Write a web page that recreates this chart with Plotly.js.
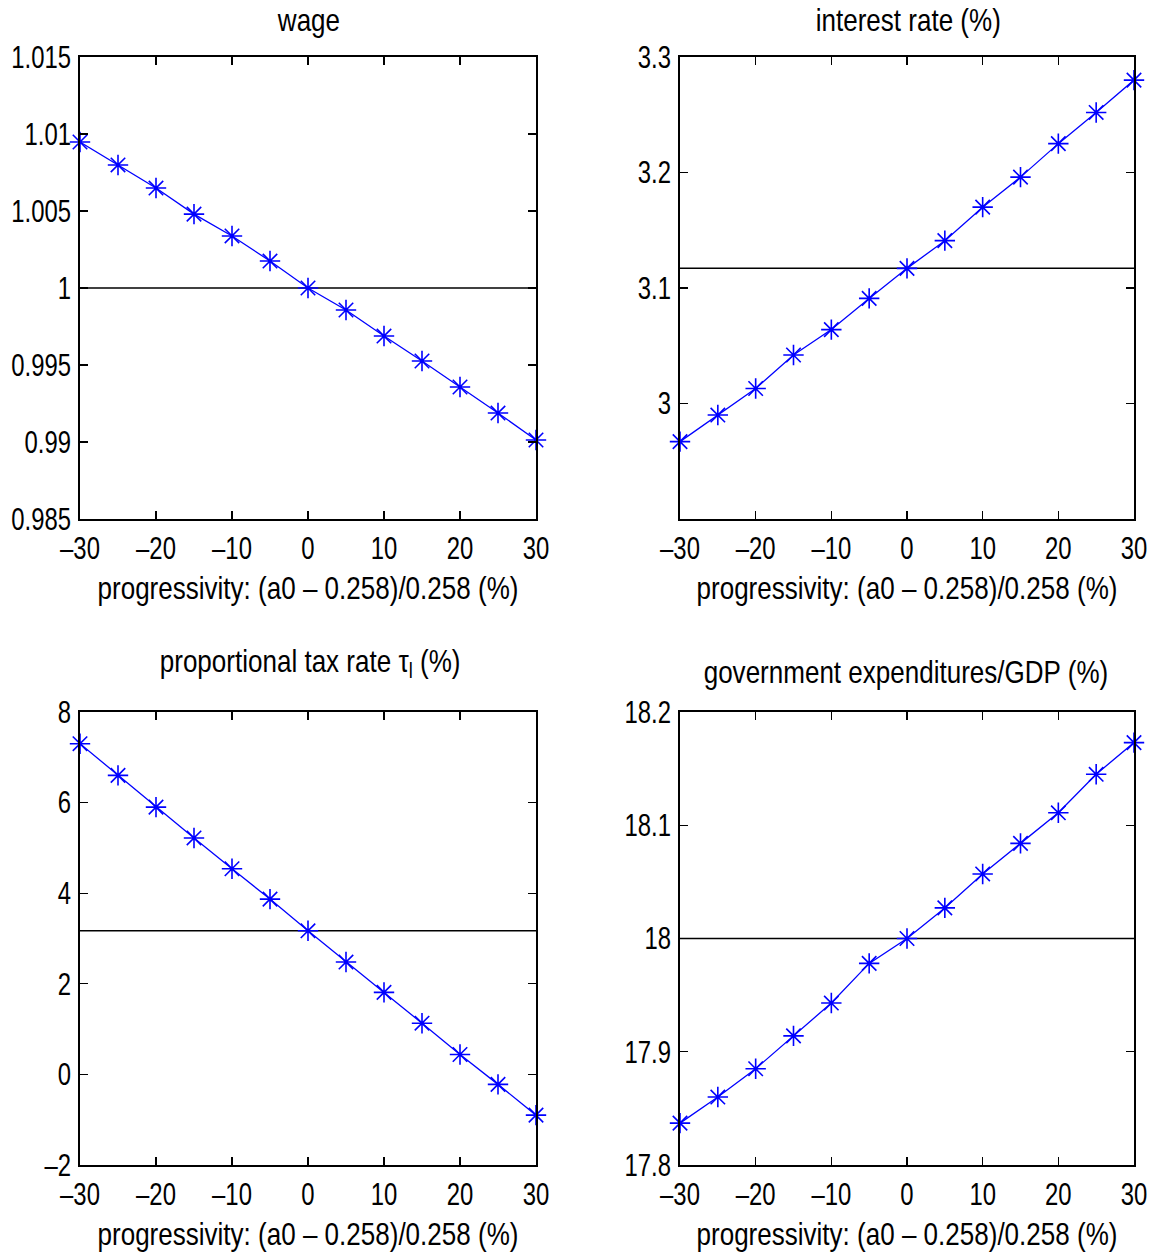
<!DOCTYPE html>
<html>
<head>
<meta charset="utf-8">
<script src="https://cdn.plot.ly/plotly-3.0.1.min.js"></script>
<style>html,body{margin:0;padding:0;background:#fff;}#chart{width:1164px;height:1254px;}</style>
</head>
<body>
<div id="chart"></div>
<script>
// progressivity (%)
const progressivity = [-30, -25, -20, -15, -10, -5, 0, 5, 10, 15, 20, 25, 30];
// series values
const wage = [1.00948, 1.00799, 1.00649, 1.0048, 1.00338, 1.00175, 1.0, 0.99857, 0.99688, 0.99526, 0.99357, 0.99188, 0.99013];
const interestRate = [2.967, 2.990, 3.013, 3.042, 3.064, 3.091, 3.117, 3.141, 3.170, 3.196, 3.225, 3.252, 3.280];
const taxRate = [7.30, 6.60, 5.90, 5.22, 4.54, 3.87, 3.17, 2.48, 1.81, 1.13, 0.44, -0.22, -0.90];
const govExp = [17.837, 17.860, 17.885, 17.914, 17.943, 17.978, 18.0, 18.027, 18.057, 18.084, 18.111, 18.145, 18.173];
// reference (baseline) levels
const wageBase = 1.0;
const interestBase = 3.117;
const taxBase = 3.17;
const govBase = 18.0;
// tick labels
const xTicks = [-30, -20, -10, 0, 10, 20, 30];
const xTickText = ['\u201330', '\u201320', '\u201310', '0', '10', '20', '30'];
const wageTicks = [0.985, 0.99, 0.995, 1, 1.005, 1.01, 1.015];
const wageTickText = ['0.985', '0.99', '0.995', '1', '1.005', '1.01', '1.015'];
const interestTicks = [3.0, 3.1, 3.2, 3.3];
const interestTickText = ['3', '3.1', '3.2', '3.3'];
const taxTicks = [-2, 0, 2, 4, 6, 8];
const taxTickText = ['\u20132', '0', '2', '4', '6', '8'];
const govTicks = [17.8, 17.9, 18.0, 18.1, 18.2];
const govTickText = ['17.8', '17.9', '18', '18.1', '18.2'];
// titles
const titles = ['wage', 'interest rate (%)', 'proportional tax rate \u03c4<sub>l</sub> (%)', 'government expenditures/GDP (%)'];
const xTitle = 'progressivity: (a0 \u2013 0.258)/0.258 (%)';

const FONT = '"Liberation Sans", Arial, sans-serif';
const FS = 31;
const NARROW_TICK = 0.77;
const NARROW_TITLE = 0.84;
const series = [wage, interestRate, taxRate, govExp];
const bases = [wageBase, interestBase, taxBase, govBase];
const axSuffix = ['', '2', '3', '4'];

const traces = [];
series.forEach((s, i) => {
  const xa = 'x' + axSuffix[i], ya = 'y' + axSuffix[i];
  traces.push({
    x: [progressivity[0], progressivity[progressivity.length - 1]],
    y: [bases[i], bases[i]],
    xaxis: xa, yaxis: ya, mode: 'lines',
    line: {color: '#000', width: 1.5}, hoverinfo: 'skip', cliponaxis: false
  });
  traces.push({
    x: progressivity, y: s, xaxis: xa, yaxis: ya,
    mode: 'lines+markers',
    line: {color: '#0000ff', width: 1.3},
    marker: {symbol: 'asterisk-open', size: 17, color: '#0000ff', line: {color: '#0000ff', width: 1.6}},
    cliponaxis: false
  });
});

const xDom = [[80/1164, 536/1164], [680/1164, 1134/1164]];
const yTop = [(1254-519)/1254, (1254-57)/1254];
const yBot = [(1254-1165)/1254, (1254-712)/1254];

function xax(dom, anchor) {
  return {
    domain: dom, anchor: anchor, range: [-30, 30],
    tickvals: xTicks, ticktext: xTickText,
    ticks: 'inside', ticklen: 8, tickwidth: 1.3, tickcolor: '#000',
    showline: true, linecolor: '#000', linewidth: 1.8, mirror: 'ticks',
    showgrid: false, zeroline: false,
    tickfont: {family: FONT, size: FS, color: '#000'},
    ticklabelstandoff: 1,
    title: {text: xTitle, font: {family: FONT, size: FS, color: '#000'}, standoff: 12}
  };
}
function yax(dom, anchor, range, tv, tt) {
  return {
    domain: dom, anchor: anchor, range: range,
    tickvals: tv, ticktext: tt,
    ticks: 'inside', ticklen: 8, tickwidth: 1.3, tickcolor: '#000',
    showline: true, linecolor: '#000', linewidth: 1.8, mirror: 'ticks',
    showgrid: false, zeroline: false,
    tickfont: {family: FONT, size: FS, color: '#000'},
    ticklabelstandoff: 1
  };
}

const ann = [
  {text: titles[0], x: 308/1164, y: (1254-20)/1254},
  {text: titles[1], x: 908/1164, y: (1254-20)/1254},
  {text: titles[2], x: 310/1164, y: (1254-664)/1254},
  {text: titles[3], x: 906/1164, y: (1254-673)/1254}
].map(a => Object.assign({xref: 'paper', yref: 'paper', showarrow: false, xanchor: 'center', yanchor: 'middle',
  font: {family: FONT, size: FS, color: '#000'}}, a));

const layout = {
  width: 1164, height: 1254,
  margin: {l: 0, r: 0, t: 0, b: 0},
  paper_bgcolor: '#fff', plot_bgcolor: '#fff',
  showlegend: false,
  xaxis: xax(xDom[0], 'y'), yaxis: yax(yTop, 'x', [0.985, 1.015], wageTicks, wageTickText),
  xaxis2: xax(xDom[1], 'y2'), yaxis2: yax(yTop, 'x2', [2.9, 3.3], interestTicks, interestTickText),
  xaxis3: xax(xDom[0], 'y3'), yaxis3: yax(yBot, 'x3', [-2, 8], taxTicks, taxTickText),
  xaxis4: xax(xDom[1], 'y4'), yaxis4: yax(yBot, 'x4', [17.8, 18.2], govTicks, govTickText),
  annotations: ann
};

// Condense the glyphs horizontally (the reference uses a narrow Helvetica)
function narrow(t, k) {
  if (!t.textContent) return;
  const bb = t.getBBox();
  const anchor = t.getAttribute('text-anchor') || 'start';
  let cx = bb.x;
  if (anchor === 'middle') cx = bb.x + bb.width / 2;
  else if (anchor === 'end') cx = bb.x + bb.width;
  const prev = t.getAttribute('transform') || '';
  t.setAttribute('transform', prev + ' translate(' + cx + ',0) scale(' + k + ',1) translate(' + (-cx) + ',0)');
}
function narrowText(gd) {
  gd.querySelectorAll('svg g.xaxislayer-above text, svg g.yaxislayer-above text').forEach(t => narrow(t, NARROW_TICK));
  gd.querySelectorAll('svg text[class$="title"], svg g.annotation text').forEach(t => narrow(t, NARROW_TITLE));
}

Plotly.newPlot('chart', traces, layout, {staticPlot: true, displayModeBar: false}).then(narrowText);
</script>
</body>
</html>
